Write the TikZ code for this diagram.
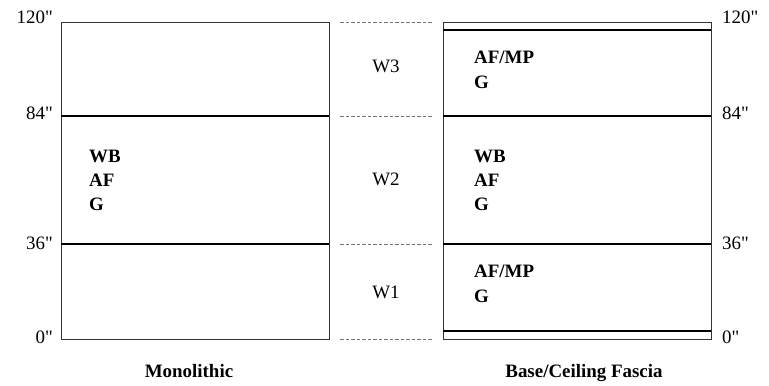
\documentclass[tikz,border=0pt]{standalone}
\usepackage{fontspec}
\setmainfont{Liberation Serif}
\usepackage{tikz}
\usepackage{xcolor}

\newcommand{\inch}{\textquotedbl}

\begin{document}
\begin{tikzpicture}[x=1bp, y=-1bp, font=\fontsize{19}{21}\selectfont,
    frame/.style={draw=black!80, line width=0.8bp},
    split/.style={draw=black, line width=1.6bp},
    guide/.style={draw=black!55, dash pattern=on 3.5bp off 2bp, line width=0.8bp},
    tick/.style={inner sep=0pt},
    part/.style={inner sep=0pt, anchor=base west, font=\fontsize{19}{21}\selectfont\bfseries}]
    \useasboundingbox (0,0) rectangle (769,385);

    % Monolithic wall
    \draw[frame] (61,22) rectangle (329,339);
    \draw[split] (61,116) -- (329,116);
    \draw[split] (61,244) -- (329,244);
    \node[part] (mwb) at (89,162) {WB};
    \node[part] (maf) at (89,186) {AF};
    \node[part] (mg) at (89,210) {G};
    \node[font=\fontsize{19}{21}\selectfont\bfseries, anchor=base] (mono) at (189,377) {Monolithic};

    % Base/Ceiling fascia wall
    \draw[frame] (443,22) rectangle (711,339);
    \draw[split] (443,30) -- (711,30);
    \draw[split] (443,116) -- (711,116);
    \draw[split] (443,244) -- (711,244);
    \draw[split] (443,331) -- (711,331);
    \node[part] (taf) at (474,63) {AF/MP};
    \node[part] (tg) at (474,88) {G};
    \node[part] (fwb) at (474,162) {WB};
    \node[part] (faf) at (474,186) {AF};
    \node[part] (fg) at (474,210) {G};
    \node[part] (baf) at (474,277) {AF/MP};
    \node[part] (bg) at (474,302) {G};
    \node[font=\fontsize{19}{21}\selectfont\bfseries, anchor=base] (fascia) at (584,377) {Base/Ceiling Fascia};

    % Heights
    \node[tick, anchor=base east] (l120) at (53,23) {120\inch};
    \node[tick, anchor=base east] (l84) at (53,119) {84\inch};
    \node[tick, anchor=base east] (l36) at (53,249) {36\inch};
    \node[tick, anchor=base east] (l0) at (53,343) {0\inch};
    \node[tick, anchor=base west] (r120) at (722,23) {120\inch};
    \node[tick, anchor=base west] (r84) at (722,119) {84\inch};
    \node[tick, anchor=base west] (r36) at (722,249) {36\inch};
    \node[tick, anchor=base west] (r0) at (722,343) {0\inch};

    % Window zones
    \foreach \y/\n in {22/a, 116/b, 244/c, 339/d} {
        \coordinate (g\n l) at (340,\y);
        \coordinate (g\n r) at (432,\y);
        \draw[guide] (g\n l) -- (g\n r);
    }
    \node[tick, anchor=base] (w3) at (386,72) {W3};
    \node[tick, anchor=base] (w2) at (386,185) {W2};
    \node[tick, anchor=base] (w1) at (386,298) {W1};
\end{tikzpicture}
\end{document}
